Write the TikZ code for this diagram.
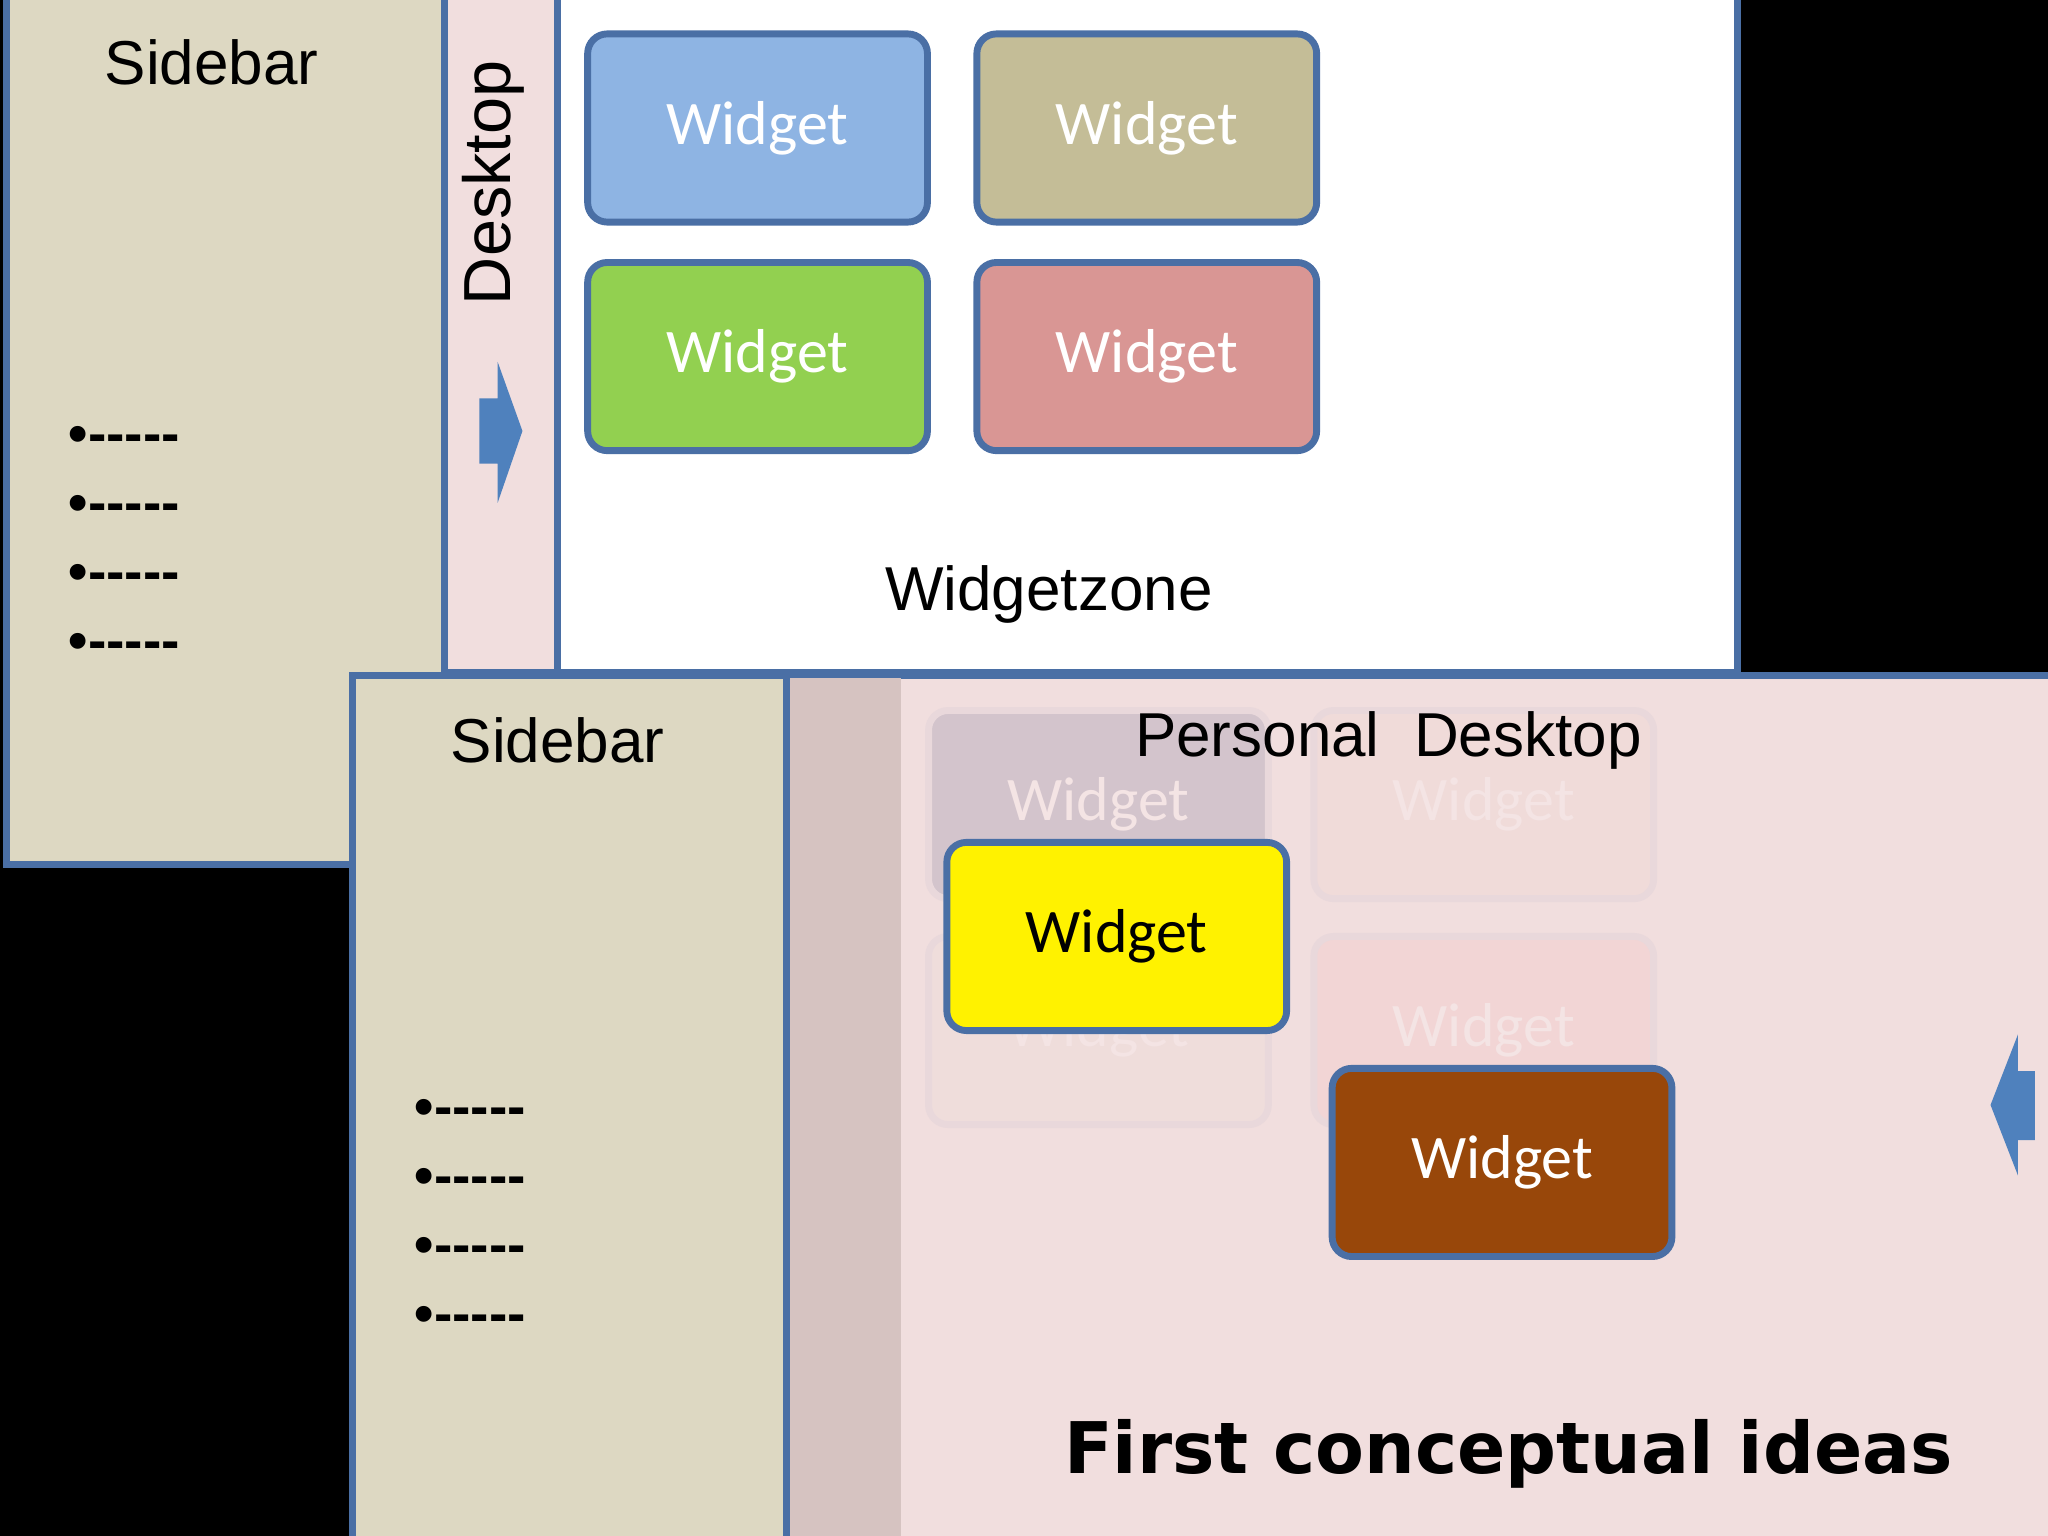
\documentclass[tikz,border=0pt]{standalone}
\usepackage{fontspec}
\setmainfont{Liberation Sans}
\newfontfamily\widgetfont{Carlito}
\newfontfamily\titlefont{DejaVu Sans}
\usetikzlibrary{positioning}
\definecolor{sidebarbg}{HTML}{DDD8C2}
\definecolor{deskpink}{HTML}{F1DEDE}
\definecolor{deskdark}{HTML}{D6C3C1}
\definecolor{frameblue}{HTML}{4A6FA5}
\definecolor{arrowblue}{HTML}{4F81BD}
\tikzset{
  panel/.style={draw=frameblue, line width=1.5pt},
  widget/.style={draw=frameblue, line width=1.5pt, rounded corners=0.15cm,
    minimum width=2.6cm, minimum height=1.44cm, font=\widgetfont\fontsize{13.5}{13.5}\selectfont, text=white},
  ghost/.style={widget, draw=frameblue!5!deskpink, text=white!20!deskpink},
  label/.style={font=\fontsize{13.5}{13.5}\selectfont},
  bullets/.style={font=\bfseries\fontsize{12}{15}\selectfont, align=left, inner sep=0pt}
}
\newcommand\dashline{\textbullet{-}{-}{-}{-}{-}}
\begin{document}
\begin{tikzpicture}[x=0.01cm,y=-0.01cm]
  \useasboundingbox (0,0) rectangle (1568,1176);
  \fill[black] (0,0) rectangle (1568,1176);

  % top screen
  \filldraw[panel, fill=sidebarbg] (5,-5) rectangle (340,662);
  \filldraw[panel, fill=deskpink] (340,-5) rectangle (427,515);
  \filldraw[panel, fill=white] (427,-5) rectangle (1330,515);
  \node[label] (sideA) at (162,48) {Sidebar};
  \node[bullets, anchor=north west] (listA) at (52,326) {\dashline\\\dashline\\\dashline\\\dashline};
  \node[label, rotate=90, font=\fontsize{14.5}{14.5}\selectfont] (deskA) at (378,140) {Desktop};
  \begin{scope}
    \clip (340,0) rectangle (427,515);
    \node[label, rotate=90, font=\fontsize{14.5}{14.5}\selectfont, anchor=east] (persA) at (378,588) {Personal};
  \end{scope}
  \fill[arrowblue] (367,305) -- (381,305) -- (381,277) -- (400,330) -- (381,385) -- (381,355) -- (367,355) -- cycle;
  \node[widget, fill={rgb,255:red,142;green,180;blue,227}] (w1) at (580,98) {Widget};
  \node[widget, fill={rgb,255:red,196;green,189;blue,151}] (w2) at (878,98) {Widget};
  \node[widget, fill={rgb,255:red,146;green,208;blue,80}] (w3) at (580,273) {Widget};
  \node[widget, fill={rgb,255:red,217;green,150;blue,148}] (w4) at (878,273) {Widget};
  \node[label] (zone) at (803,455) {Widgetzone};

  % bottom screen
  \filldraw[panel, fill=deskpink] (270,517) rectangle (1580,1190);
  \fill[deskdark] (602,519) rectangle (690,1190);
  \filldraw[panel, fill=sidebarbg] (270,517) rectangle (602,1190);
  \node[label] (sideB) at (427,567) {Sidebar};
  \node[bullets, anchor=north west] (listB) at (317,841) {\dashline\\\dashline\\\dashline\\\dashline};
  \node[ghost, fill=deskpink!96!blue!80!gray] (g1) at (841,616) {Widget};
  \node[ghost, fill=deskpink!97!brown] (g2) at (1136,616) {Widget};
  \node[ghost, fill=deskpink!90!sidebarbg] (g3) at (841,789) {Widget};
  \node[ghost, fill=deskpink!96!red] (g4) at (1136,789) {Widget};
  \node[label] (persB) at (1063,567) {Personal\ \ Desktop};
  \node[widget, fill=yellow, text=black] (w5) at (855,717) {Widget};
  \node[widget, fill={rgb,255:red,152;green,71;blue,10}] (w6) at (1150,890) {Widget};
  \fill[arrowblue] (1558,820) -- (1545,820) -- (1545,792) -- (1524,846) -- (1545,900) -- (1545,873) -- (1558,873) -- cycle;
  \node[font=\titlefont\bfseries\fontsize{15.5}{15.5}\selectfont] (title) at (1155,1113) {First conceptual ideas};
\end{tikzpicture}
\end{document}
